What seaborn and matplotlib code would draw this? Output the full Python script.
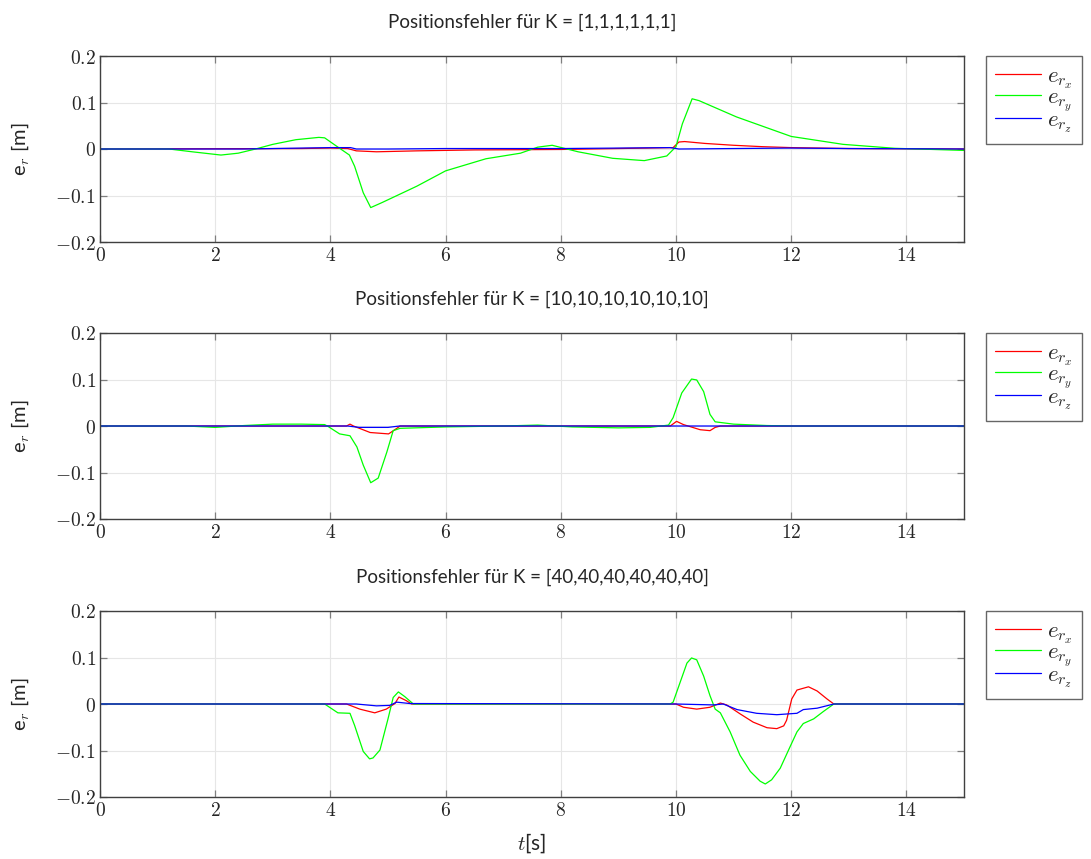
import numpy as np
import pandas as pd
import matplotlib
matplotlib.use("Agg")
import matplotlib.pyplot as plt
import seaborn as sns

# ---------------- data ----------------
titles = ["Positionsfehler für K = [1,1,1,1,1,1]",
          "Positionsfehler für K = [10,10,10,10,10,10]",
          "Positionsfehler für K = [40,40,40,40,40,40]"]
series_labels = [r"$e_{r_x}$", r"$e_{r_y}$", r"$e_{r_z}$"]
series_colors = ["#ff0000", "#00ff00", "#0000ff"]
x_ticks = [0, 2, 4, 6, 8, 10, 12, 14]
x_ticklabels = [r"$0$", r"$2$", r"$4$", r"$6$", r"$8$", r"$10$", r"$12$", r"$14$"]
y_ticks = [-0.2, -0.1, 0.0, 0.1, 0.2]
y_ticklabels = [r"$-0.2$", r"$-0.1$", r"$0$", r"$0.1$", r"$0.2$"]

# Panel 1: K = 1
t1_x = [0, 3.5, 4.0, 4.3, 4.45, 4.8, 5.5, 6.5, 8.0, 9.5, 9.95, 10.05, 10.15, 10.5, 11.0, 11.5, 12.0, 13.0, 15.0]
e1_x = [0, 0.001, 0.002, 0.001, -0.004, -0.006, -0.004, -0.002, -0.001, 0.002, 0.003, 0.015, 0.016, 0.012, 0.008, 0.005, 0.003, 0.001, 0.0]
t1_y = [0, 1.2, 1.6, 2.1, 2.4, 2.7, 3.0, 3.4, 3.8, 3.9, 4.05, 4.33, 4.42, 4.57, 4.7, 4.9, 5.5, 6.0, 6.7, 7.3, 7.6, 7.85,
        8.3, 8.9, 9.45, 9.84, 10.0, 10.11, 10.28, 10.4, 11.05, 12.0, 12.9, 13.8, 15.0]
e1_y = [0, 0, -0.006, -0.013, -0.009, 0.0, 0.01, 0.02, 0.025, 0.024, 0.011, -0.013, -0.037, -0.094, -0.126, -0.115,
        -0.08, -0.047, -0.021, -0.009, 0.004, 0.008, -0.006, -0.020, -0.025, -0.015, 0.005, 0.054, 0.108, 0.104,
        0.069, 0.027, 0.010, 0.0015, -0.003]
t1_z = [0, 2.5, 3.5, 4.0, 4.35, 4.45, 5.0, 6.0, 8.0, 9.0, 9.9, 10.05, 11.0, 12.0, 13.0, 15.0]
e1_z = [0, 0, 0.002, 0.003, 0.003, 0.0, 0.0, 0.001, 0.001, 0.002, 0.003, 0.0, 0.001, 0.002, 0.001, 0.0]

# Panel 2: K = 10
t2_x = [0, 4.28, 4.34, 4.4, 4.69, 5.01, 5.13, 5.21, 9.9, 10.01, 10.13, 10.42, 10.59, 10.68, 10.77, 15]
e2_x = [0, 0, 0.004, 0.0, -0.014, -0.017, -0.007, 0, 0, 0.01, 0.003, -0.008, -0.010, -0.003, 0, 0]
t2_y = [0, 1.5, 2.0, 2.5, 3.0, 3.5, 3.9, 3.96, 4.16, 4.34, 4.46, 4.57, 4.70, 4.83, 4.98, 5.09, 5.21, 6.0, 7.0, 7.6,
        8.2, 9.0, 9.55, 9.87, 9.95, 10.10, 10.27, 10.36, 10.48, 10.59, 10.68, 11.0, 11.58, 12.0, 15]
e2_y = [0, 0, -0.003, 0.001, 0.004, 0.004, 0.003, -0.001, -0.017, -0.021, -0.045, -0.084, -0.122, -0.112, -0.056,
        -0.010, -0.005, -0.002, 0.0, 0.002, -0.002, -0.004, -0.003, 0.002, 0.018, 0.071, 0.101, 0.099, 0.074, 0.025,
        0.009, 0.004, 0.001, 0, 0]
t2_z = [0, 4.3, 4.5, 5.0, 5.2, 15]
e2_z = [0, 0, -0.003, -0.003, 0, 0]

# Panel 3: K = 40
t3_x = [0, 4.28, 4.51, 4.77, 4.97, 5.12, 5.19, 5.32, 5.41, 10.0, 10.13, 10.36, 10.59, 10.77, 10.88, 11.11, 11.34,
        11.58, 11.75, 11.87, 11.92, 12.01, 12.10, 12.30, 12.45, 12.62, 12.74, 15]
e3_x = [0, 0, -0.011, -0.019, -0.011, 0.001, 0.015, 0.007, 0, 0, -0.007, -0.011, -0.007, 0.002, -0.002, -0.021,
        -0.039, -0.051, -0.053, -0.047, -0.035, 0.011, 0.030, 0.037, 0.028, 0.011, 0, 0]
t3_y = [0, 3.9, 4.13, 4.34, 4.42, 4.57, 4.68, 4.74, 4.86, 5.0, 5.09, 5.18, 5.29, 5.44, 9.9, 9.95, 10.07, 10.19, 10.27,
        10.36, 10.48, 10.59, 10.68, 10.77, 10.94, 11.11, 11.29, 11.46, 11.55, 11.66, 11.81, 11.98, 12.10, 12.21,
        12.39, 12.56, 12.74, 15]
e3_y = [0, 0, -0.019, -0.020, -0.046, -0.102, -0.118, -0.116, -0.099, -0.032, 0.014, 0.026, 0.016, 0, 0, 0.004,
        0.046, 0.088, 0.099, 0.095, 0.060, 0.018, -0.011, -0.019, -0.060, -0.110, -0.145, -0.166, -0.172, -0.163,
        -0.138, -0.092, -0.060, -0.042, -0.032, -0.016, 0, 0]
t3_z = [0, 4.45, 4.80, 5.03, 5.15, 5.38, 10.0, 10.65, 10.82, 11.06, 11.40, 11.75, 11.98, 12.10, 12.21, 12.45, 12.74, 15]
e3_z = [0, 0, -0.004, -0.003, 0.004, 0.001, 0, -0.002, 0, -0.012, -0.020, -0.023, -0.021, -0.020, -0.012, -0.009, 0, 0]

panels = [
    [(t1_x, e1_x), (t1_y, e1_y), (t1_z, e1_z)],
    [(t2_x, e2_x), (t2_y, e2_y), (t2_z, e2_z)],
    [(t3_x, e3_x), (t3_y, e3_y), (t3_z, e3_z)],
]

# ---------------- style ----------------
sns.set_style("ticks")
plt.rcParams["font.family"] = ["Lato", "DejaVu Sans"]
plt.rcParams["mathtext.fontset"] = "cm"

fig = plt.figure(figsize=(10.91, 8.59), dpi=100)

W, H = 1091.0, 859.0
left = 100 / W
width = (964 - 100) / W
tops = [56, 333, 611]
ax_h = 186 / H

for i, (ttl, data) in enumerate(zip(titles, panels)):
    top = tops[i]
    ax = fig.add_axes([left, 1 - (top + 186) / H, width, ax_h])
    frames = []
    for lab, (tt, ee) in zip(series_labels, data):
        frames.append(pd.DataFrame({"t": tt, "e": ee, "series": lab}))
    df = pd.concat(frames, ignore_index=True)
    sns.lineplot(data=df, x="t", y="e", hue="series", hue_order=series_labels,
                 palette=series_colors, estimator=None, sort=False, linewidth=0.9,
                 legend=False, ax=ax)
    ax.set_xlim(0, 15)
    ax.set_ylim(-0.2, 0.2)
    ax.set_xticks(x_ticks)
    ax.set_xticklabels(x_ticklabels, fontsize=14)
    ax.set_yticks(y_ticks)
    ax.set_yticklabels(y_ticklabels, fontsize=14)
    ax.grid(True, color="#e6e6e6", linewidth=0.8)
    ax.set_axisbelow(True)
    ax.tick_params(direction="in", length=5, width=0.9, color="#7f7f7f",
                   top=True, right=True, pad=3)
    for sp in ax.spines.values():
        sp.set_color("#404040")
        sp.set_linewidth(1.0)
    ax.set_title(ttl, fontsize=13.5, pad=20)
    ax.set_ylabel(r"e$_r$ [m]", fontsize=14.5, labelpad=17)
    if i == 2:
        ax.set_xlabel(r"$t$[s]", fontsize=15, labelpad=9)
    else:
        ax.set_xlabel("")
    handles = ax.get_lines()[:3]
    leg = ax.legend(handles, series_labels, loc="upper left", bbox_to_anchor=(1.025, 1.0),
                    fontsize=16.5, frameon=True, fancybox=False, handlelength=2.0,
                    borderpad=0.4, labelspacing=-0.2, handletextpad=0.3, borderaxespad=0.0)
    leg.get_frame().set_edgecolor("#404040")
    leg.get_frame().set_linewidth(1.0)

fig.savefig("out.png", dpi=100)
